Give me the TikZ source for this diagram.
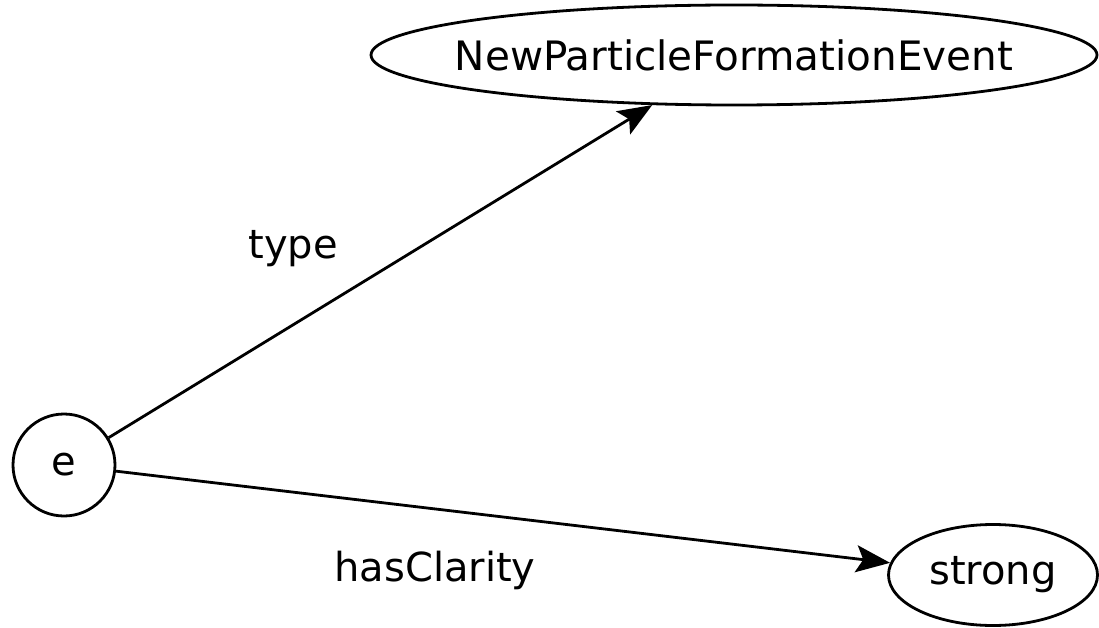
\documentclass[tikz,border=0pt]{standalone}
\usepackage{fontspec}
\setmainfont{DejaVu Sans}
\usetikzlibrary{shapes.geometric,arrows.meta}
\begin{document}
\begin{tikzpicture}[x=1pt,y=-1pt,
  every node/.style={font=\fontsize{40}{48}\selectfont},
  nodebox/.style={draw,line width=2.8pt,inner sep=0pt},
  edge/.style={line width=2.8pt,-{Stealth[length=34pt,width=27pt,inset=7pt]}},
  lbl/.style={inner sep=0pt}]
\useasboundingbox (0,0) rectangle (1099,628);
\node[nodebox,circle,minimum size=102pt] (e) at (64,465) {e};
\node[nodebox,ellipse,minimum width=726pt,minimum height=100pt] (npfe) at (734,55) {\makebox[0pt]{\fontsize{40.5}{48}\selectfont NewParticleFormationEvent}};
\node[nodebox,ellipse,minimum width=209pt,minimum height=101pt] (strong) at (993,575) {\makebox[0pt]{strong}};
\draw[edge] (e) -- (npfe);
\draw[edge] (e) -- (strong);
\node[lbl] (ltype) at (293,249) {type};
\node[lbl] (lhas) at (435,570) {hasClarity};
\end{tikzpicture}
\end{document}
